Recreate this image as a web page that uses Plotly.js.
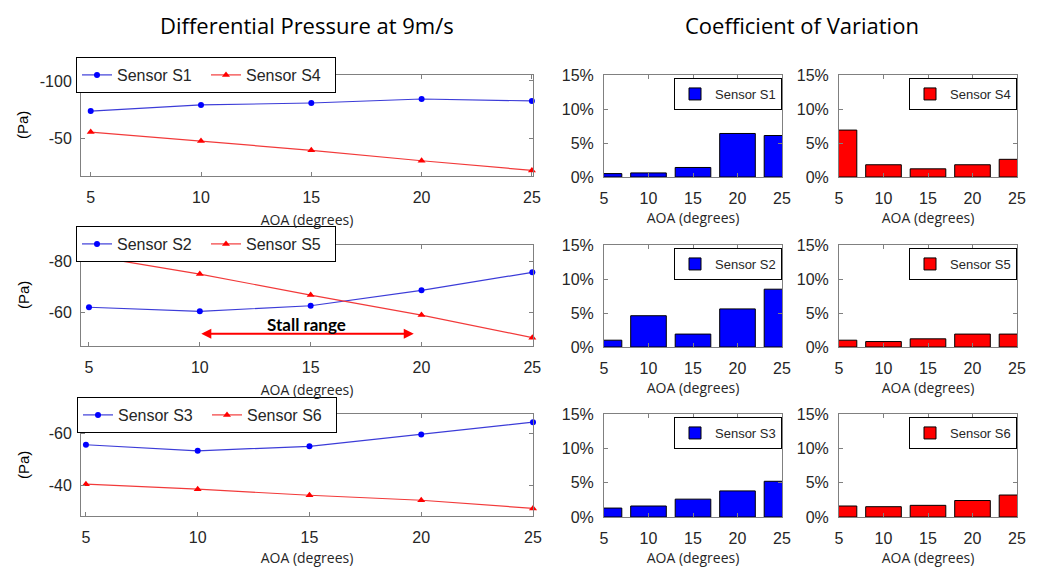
<!DOCTYPE html>
<html>
<head>
<meta charset="utf-8">
<script src="https://cdn.plot.ly/plotly-3.0.1.min.js"></script>
<style>html,body{margin:0;padding:0;background:#fff;}#chart{width:1043px;height:567px;}</style>
</head>
<body>
<div id="chart"></div>
<script>
// ---- data ----
var aoa = [5, 10, 15, 20, 25];
var aoaTicks = [5, 10, 15, 20, 25];
var dpS1 = [-73.8, -79.1, -80.8, -84.3, -82.6];
var dpS4 = [-55.5, -47.7, -39.6, -30.5, -22.1];
var dpS2 = [-62.0, -60.4, -62.6, -68.7, -75.8];
var dpS5 = [-82.4, -75.1, -66.8, -58.9, -50.0];
var dpS3 = [-55.6, -53.3, -55.0, -59.5, -64.2];
var dpS6 = [-40.6, -38.7, -36.4, -34.5, -31.4];
var cvS1 = [0.5, 0.6, 1.4, 6.4, 6.1];
var cvS4 = [6.9, 1.8, 1.2, 1.8, 2.6];
var cvS2 = [1.0, 4.6, 1.9, 5.6, 8.5];
var cvS5 = [1.0, 0.8, 1.2, 1.9, 1.9];
var cvS3 = [1.3, 1.6, 2.6, 3.8, 5.2];
var cvS6 = [1.6, 1.5, 1.7, 2.4, 3.2];
var yTicks1 = [-100, -50];
var yLabels1 = ['-100', '-50'];
var yTicks2 = [-80, -60];
var yLabels2 = ['-80', '-60'];
var yTicks3 = [-60, -40];
var yLabels3 = ['-60', '-40'];
var cvTicks = [0, 5, 10, 15];
var cvLabels = ['0%', '5%', '10%', '15%'];
var stallRange = [10, 19.65];
var stallLevel = -51.5;
var stallTextLevel = -55.1;

var W = 1043, H = 567;
function px(x) { return x / W; }
function py(y) { return 1 - y / H; }

var BLUE = '#0000ff', RED = '#ff0000';
var BLUE_LINE = '#3c3cd8', RED_LINE = '#f23a3a';
var ARIAL = 'Liberation Sans, Arial, Helvetica, sans-serif';
var tickFont = {family: ARIAL, size: 16, color: '#262626'};
var titleFont = {family: 'Open Sans, sans-serif', size: 14, color: '#262626'};

function lineTrace(y, name, color, lcolor, symbol, xa, ya, leg) {
  return {
    type: 'scatter', mode: 'lines+markers', x: aoa, y: y, name: name,
    xaxis: xa, yaxis: ya, legend: leg, cliponaxis: false,
    line: {color: lcolor, width: 1.2},
    marker: {color: color, size: symbol === 'circle' ? 6 : 7, symbol: symbol}
  };
}
function barTrace(y, name, color, xa, ya, leg) {
  return {
    type: 'bar', x: aoa, y: y, name: name, width: 4,
    xaxis: xa, yaxis: ya, legend: leg,
    marker: {color: color, line: {color: '#000', width: 1}}
  };
}

var data = [
  lineTrace(dpS1, 'Sensor S1', BLUE, BLUE_LINE, 'circle', 'x', 'y', 'legend'),
  lineTrace(dpS4, 'Sensor S4', RED, RED_LINE, 'triangle-up', 'x', 'y', 'legend'),
  lineTrace(dpS2, 'Sensor S2', BLUE, BLUE_LINE, 'circle', 'x2', 'y2', 'legend2'),
  lineTrace(dpS5, 'Sensor S5', RED, RED_LINE, 'triangle-up', 'x2', 'y2', 'legend2'),
  lineTrace(dpS3, 'Sensor S3', BLUE, BLUE_LINE, 'circle', 'x3', 'y3', 'legend3'),
  lineTrace(dpS6, 'Sensor S6', RED, RED_LINE, 'triangle-up', 'x3', 'y3', 'legend3'),
  barTrace(cvS1, 'Sensor S1', BLUE, 'x4', 'y4', 'legend4'),
  barTrace(cvS4, 'Sensor S4', RED, 'x5', 'y5', 'legend5'),
  barTrace(cvS2, 'Sensor S2', BLUE, 'x6', 'y6', 'legend6'),
  barTrace(cvS5, 'Sensor S5', RED, 'x7', 'y7', 'legend7'),
  barTrace(cvS3, 'Sensor S3', BLUE, 'x8', 'y8', 'legend8'),
  barTrace(cvS6, 'Sensor S6', RED, 'x9', 'y9', 'legend9')
];

function baseAxis(extra) {
  var a = {
    showline: true, linecolor: '#808080', linewidth: 1, mirror: 'ticks',
    ticks: 'inside', ticklen: 4, tickcolor: '#808080', zeroline: false,
    showgrid: false, fixedrange: true, automargin: false, tickfont: tickFont
  };
  for (var k in extra) a[k] = extra[k];
  return a;
}
function xLine(anchor, range) {
  return baseAxis({domain: [px(81), px(533)], anchor: anchor, range: range,
    tickvals: aoaTicks, ticklabelstandoff: 7,
    title: {text: 'AOA (degrees)', font: titleFont, standoff: 9}});
}
function yLine(rowTop, rowBot, anchor, range, tv, tt) {
  return baseAxis({domain: [py(rowBot), py(rowTop)], anchor: anchor, range: range,
    tickvals: tv, ticktext: tt, ticklabelstandoff: 5});
}
function xBar(col, anchor) {
  var d = col === 0 ? [px(604), px(782)] : [px(839), px(1017)];
  return baseAxis({domain: d, anchor: anchor, range: [5, 25], tickvals: aoaTicks,
    ticklabelstandoff: 7,
    title: {text: 'AOA (degrees)', font: titleFont, standoff: 6}});
}
function yBar(row, anchor) {
  var rows = [[75, 177], [245, 347], [414, 517]];
  return baseAxis({domain: [py(rows[row][1]), py(rows[row][0])], anchor: anchor,
    range: [0, 15], tickvals: cvTicks, ticktext: cvLabels, ticklabelstandoff: 6});
}

function legendBox(xp, yp, xanchor, size, orient, ew) {
  var l = {x: xp, y: yp, xanchor: xanchor, yanchor: 'top', orientation: orient,
    bgcolor: '#ffffff', bordercolor: '#000000', borderwidth: 1,
    font: {family: ARIAL, size: size, color: '#262626'},
    itemclick: false, itemdoubleclick: false};
  if (ew) { l.entrywidth = ew; l.entrywidthmode = 'pixels'; }
  return l;
}

function paperText(text, x, y, size, family, angle) {
  return {text: text, xref: 'paper', yref: 'paper', x: px(x), y: py(y),
    xanchor: 'center', yanchor: 'middle', showarrow: false, textangle: angle || 0,
    font: {family: family, size: size, color: '#000'}};
}

var layout = {
  width: W, height: H,
  margin: {l: 0, r: 0, t: 0, b: 0},
  paper_bgcolor: '#ffffff', plot_bgcolor: '#ffffff',
  showlegend: true,
  xaxis: xLine('y', [4.56, 25.05]),
  yaxis: yLine(75, 176, 'x', [-17.2, -105.2], yTicks1, yLabels1),
  xaxis2: xLine('y2', [4.64, 25.03]),
  yaxis2: yLine(245, 346, 'x2', [-46.7, -86.6], yTicks2, yLabels2),
  xaxis3: xLine('y3', [4.78, 25.0]),
  yaxis3: yLine(414, 516, 'x3', [-28.5, -67.3], yTicks3, yLabels3),
  xaxis4: xBar(0, 'y4'), yaxis4: yBar(0, 'x4'),
  xaxis5: xBar(1, 'y5'), yaxis5: yBar(0, 'x5'),
  xaxis6: xBar(0, 'y6'), yaxis6: yBar(1, 'x6'),
  xaxis7: xBar(1, 'y7'), yaxis7: yBar(1, 'x7'),
  xaxis8: xBar(0, 'y8'), yaxis8: yBar(2, 'x8'),
  xaxis9: xBar(1, 'y9'), yaxis9: yBar(2, 'x9'),
  legend: legendBox(px(76), py(57), 'left', 16, 'h', 84),
  legend2: legendBox(px(76), py(226), 'left', 16, 'h', 84),
  legend3: legendBox(px(77), py(397), 'left', 16, 'h', 84),
  legend4: legendBox(px(782), py(78), 'right', 13, 'v'),
  legend5: legendBox(px(1017), py(78), 'right', 13, 'v'),
  legend6: legendBox(px(782), py(248), 'right', 13, 'v'),
  legend7: legendBox(px(1017), py(248), 'right', 13, 'v'),
  legend8: legendBox(px(782), py(417), 'right', 13, 'v'),
  legend9: legendBox(px(1017), py(417), 'right', 13, 'v'),
  annotations: [
    paperText('Differential Pressure at 9m/s', 307, 25, 22, 'Open Sans, sans-serif'),
    paperText('Coefficient of Variation', 802, 25, 22, 'Open Sans, sans-serif'),
    paperText('(Pa)', 23, 125, 15, ARIAL, -90),
    paperText('(Pa)', 23, 295, 15, ARIAL, -90),
    paperText('(Pa)', 23, 465, 15, ARIAL, -90),
    {text: '', xref: 'x2', yref: 'y2', axref: 'x2', ayref: 'y2',
      x: stallRange[1], y: stallLevel, ax: stallRange[0], ay: stallLevel,
      showarrow: true, arrowhead: 2, arrowside: 'end+start', arrowsize: 1, arrowwidth: 2,
      arrowcolor: '#ff0000', standoff: 0, startstandoff: 0},
    {text: '<b>Stall range</b>', xref: 'x2', yref: 'y2',
      x: (stallRange[0] + stallRange[1]) / 2, y: stallTextLevel, showarrow: false,
      xanchor: 'center', yanchor: 'middle',
      font: {family: 'Lato, Open Sans, sans-serif', size: 17, color: '#000'}}
  ]
};

Plotly.newPlot('chart', data, layout, {staticPlot: true, displayModeBar: false});
</script>
</body>
</html>
